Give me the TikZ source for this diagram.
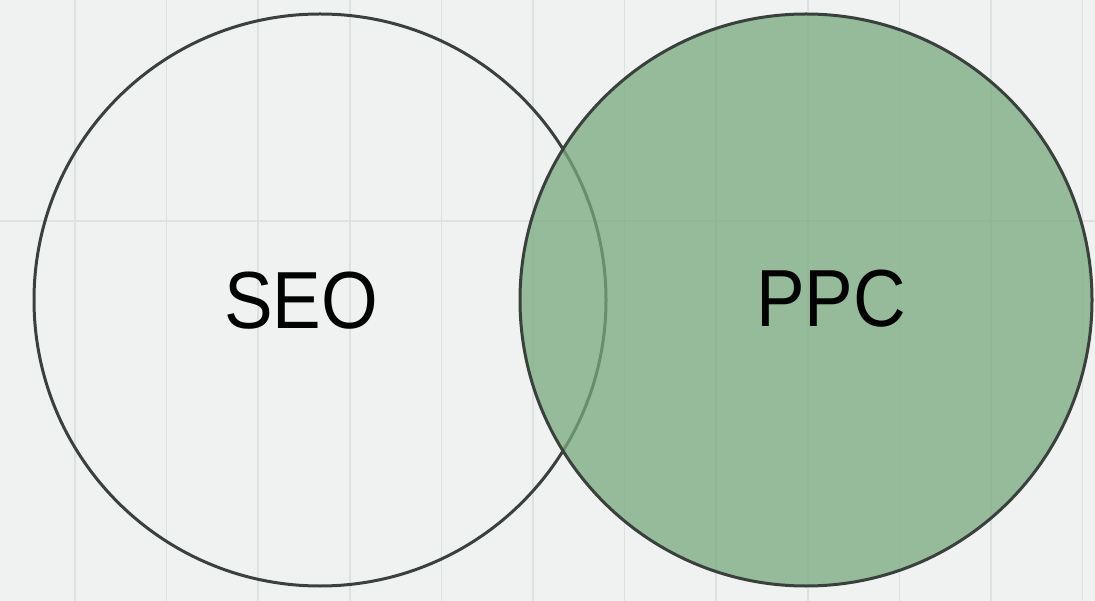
\documentclass[tikz,border=0pt]{standalone}
\usepackage{fontspec}
\setmainfont{Liberation Sans}
\definecolor{bg}{HTML}{EFF2F1}
\definecolor{gridc}{HTML}{DDE2E0}
\definecolor{edge}{HTML}{3A413D}
\definecolor{ppcgreen}{HTML}{78A97D}
\tikzset{
  gridline/.style={draw=gridc, line width=1.6pt},
  venn/.style={circle, draw=edge, line width=3pt, minimum size=572pt, inner sep=0pt},
  label/.style={inner sep=0pt, font=\fontsize{81}{81}\selectfont, text=black},
}
\begin{document}
\begin{tikzpicture}[x=1pt, y=-1pt]
\fill[bg] (0,0) rectangle (1095,601);
\useasboundingbox (0,0) rectangle (1095,601);
\foreach \gx in {75,166.6,258.2,349.8,441.4,533,624.6,716.2,807.8,899.4,991,1082.6}
  \draw[gridline] (\gx,0) -- (\gx,601);
\draw[gridline] (0,221) -- (1095,221);
\node[venn] (seoC) at (320,300) {};
\node[venn, fill=ppcgreen, fill opacity=0.75, draw opacity=1] (ppcC) at (806,300) {};
\node[label] (seo) at (301,301) {\scalebox{0.9}[1]{SEO}};
\node[label] (ppc) at (831,299) {\scalebox{0.9}[1]{PPC}};
\end{tikzpicture}
\end{document}
